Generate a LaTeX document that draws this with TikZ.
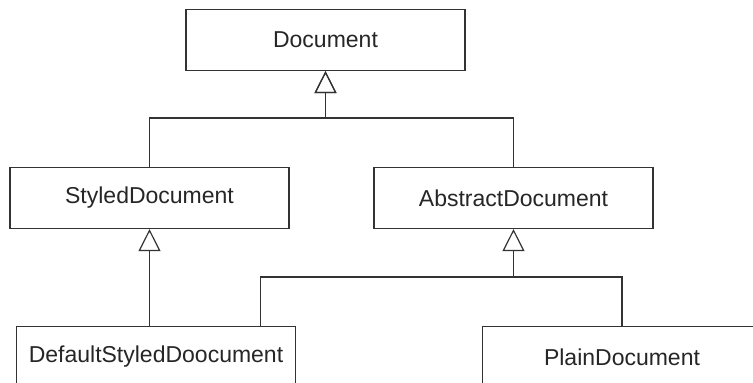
\documentclass[tikz,border=0pt]{standalone}
\usepackage{fontspec}
\setmainfont{Liberation Sans}
\usetikzlibrary{arrows.meta}

\tikzset{
  class/.style={draw=black!80, line width=1.2pt, fill=white, inner sep=0pt,
    minimum width=279pt, minimum height=61pt,
    font=\fontsize{23}{27}\selectfont, text=black!85},
  inherits/.style={draw=black!80, line width=1.2pt,
    -{Triangle[open, length=22pt, width=22pt]}},
  link/.style={draw=black!80, line width=1.2pt},
}

\begin{document}
\begin{tikzpicture}[x=1pt, y=-1pt]
  \useasboundingbox (0,0) rectangle (753,383);
  \clip (0,0) rectangle (753,383);

  \node[class] (document) at (325.5,40) {Document};
  \node[class] (styled-document) at (149.5,198) {StyledDocument};
  \node[class] (abstract-document) at (513.5,198) {AbstractDocument};
  \node[class] (default-styled-document) at (156,357) {DefaultStyledDoocument};
  \node[class] (plain-document) at (622,357) {PlainDocument};

  \coordinate (top-bar) at (325.5,118);
  \coordinate (mid-bar) at (513.5,277);

  \draw[inherits] (styled-document.north) |- (top-bar) -- (document.south);
  \draw[inherits] (abstract-document.north) |- (top-bar) -- (document.south);
  \draw[inherits] (default-styled-document.north -| styled-document.south) -- (styled-document.south);
  \draw[inherits] (plain-document.north) |- (mid-bar) -- (abstract-document.south);
  \draw[link] ([xshift=-36pt]default-styled-document.north east) |- (mid-bar);
\end{tikzpicture}
\end{document}
